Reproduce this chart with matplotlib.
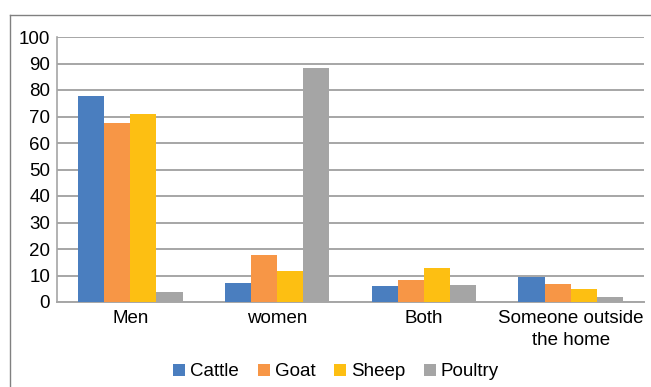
import numpy as np
import matplotlib.pyplot as plt
from matplotlib.lines import Line2D

# Data
categories = ['Men', 'women', 'Both', 'Someone outside\nthe home']
series = ['Cattle', 'Goat', 'Sheep', 'Poultry']
cattle = [77.6, 7.0, 5.9, 9.3]
goat = [67.4, 17.6, 8.2, 6.7]
sheep = [70.8, 11.7, 12.7, 4.8]
poultry = [3.7, 88.2, 6.3, 1.8]
colors = ['#4A7EBF', '#F79646', '#FDBF12', '#A5A5A5']

plt.rcParams['font.family'] = ['Liberation Sans', 'DejaVu Sans']

fig = plt.figure(figsize=(6.51, 3.87), dpi=100)
ax = fig.add_axes([57 / 651, 1 - 302 / 387, 587 / 651, 265 / 387])

x = np.arange(len(categories))
width = 0.178
values = [cattle, goat, sheep, poultry]
for i, (name, vals) in enumerate(zip(series, values)):
    ax.bar(x + (i - 1.5) * width, vals, width, color=colors[i], label=name, zorder=3)

ax.set_xlim(-0.5, len(categories) - 0.5)
ax.set_ylim(0, 100)
ax.set_yticks(np.arange(0, 101, 10))
ax.set_xticks(x)
ax.set_xticklabels(categories, fontsize=13.5, linespacing=1.35)
ax.tick_params(axis='y', labelsize=13.5, length=0, pad=5)
ax.tick_params(axis='x', length=0, pad=6)
ax.grid(axis='y', color='#A6A6A6', linewidth=1.4, zorder=0)

for s in ['top', 'right']:
    ax.spines[s].set_visible(False)
ax.spines['left'].set_color('#A6A6A6')
ax.spines['bottom'].set_color('#A6A6A6')
ax.spines['left'].set_linewidth(1.2)
ax.spines['bottom'].set_linewidth(1.4)

# outer chart frame (only top and left edges visible)
fx = 9.5 / 651
fy = 1 - 15 / 387
fig.add_artist(Line2D([fx, fx], [0, fy], transform=fig.transFigure, color='#808080', linewidth=1))
fig.add_artist(Line2D([fx, 1], [fy, fy], transform=fig.transFigure, color='#808080', linewidth=1))

fig.legend(loc='center', bbox_to_anchor=(336 / 651, 1 - 372 / 387), ncol=4, frameon=False,
           fontsize=13.5, handlelength=0.65, handleheight=0.65, handletextpad=0.25,
           columnspacing=1.0)

fig.savefig('out.png', dpi=100)
